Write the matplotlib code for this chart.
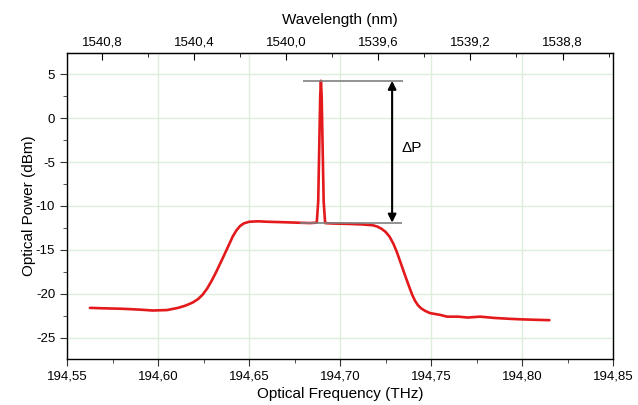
import matplotlib.pyplot as plt
from matplotlib.ticker import MultipleLocator, FixedLocator, FuncFormatter

# spectrum
freq = [194.5626, 194.570, 194.580, 194.590, 194.597, 194.605, 194.611, 194.615,
        194.619, 194.622, 194.6245, 194.627, 194.6295, 194.632, 194.6345, 194.637,
        194.639, 194.641, 194.643, 194.645, 194.647, 194.650, 194.655, 194.660,
        194.6687, 194.676, 194.6835, 194.6872,
        194.6880, 194.6886, 194.6891, 194.6895, 194.6899, 194.6904, 194.6910, 194.6918,
        194.6960, 194.7055, 194.712, 194.718, 194.7205, 194.7228, 194.725, 194.7272,
        194.7293, 194.7313, 194.7335, 194.7357, 194.7378, 194.7396, 194.7412, 194.7428,
        194.7445, 194.7468, 194.7495, 194.755, 194.7588, 194.765, 194.7700, 194.7769,
        194.785, 194.7934, 194.799, 194.806, 194.815]
power = [-21.6, -21.65, -21.7, -21.8, -21.9, -21.85, -21.6, -21.35,
         -21.0, -20.6, -20.1, -19.4, -18.5, -17.5, -16.4, -15.3,
         -14.4, -13.5, -12.8, -12.3, -12.0, -11.8, -11.75, -11.8,
         -11.85, -11.9, -11.95, -11.9,
         -9.5, -3.0, 2.5, 4.24, 2.5, -3.0, -9.5, -11.95,
         -12.0, -12.05, -12.1, -12.2, -12.35, -12.6, -12.95, -13.5,
         -14.3, -15.3, -16.6, -17.9, -19.1, -20.1, -20.8, -21.3,
         -21.65, -21.95, -22.2, -22.4, -22.6, -22.6, -22.7, -22.6,
         -22.75, -22.85, -22.9, -22.95, -23.0]

peak_level = 4.24
floor_level = -11.9
wl_ticks = [1540.8, 1540.4, 1540.0, 1539.6, 1539.2, 1538.8]
wl_minor = [1540.8, 1540.6, 1540.4, 1540.2, 1540.0, 1539.8, 1539.6, 1539.4,
            1539.2, 1539.0, 1538.8, 1538.6]

C = 299792.458  # nm*THz


def f2l(f):
    return C / f


def l2f(l):
    return C / l


plt.rcParams['font.family'] = ['Liberation Sans', 'DejaVu Sans']
fig, ax = plt.subplots(figsize=(6.38, 4.05), dpi=100)
fig.subplots_adjust(left=0.105, right=0.961, bottom=0.114, top=0.869)

ax.grid(True, which='major', color='#dcefdc', linewidth=1.0)
ax.plot(freq, power, color='#e3191c', linewidth=1.9, zorder=3,
        solid_joinstyle='round', solid_capstyle='round')

# delta P annotation
ax.hlines(peak_level, 194.6797, 194.7346, color='#808080', linewidth=1.2, zorder=4)
ax.hlines(floor_level, 194.678, 194.734, color='#808080', linewidth=1.2, zorder=4)
ax.annotate('', xy=(194.7286, peak_level), xytext=(194.7286, floor_level),
            arrowprops=dict(arrowstyle='<|-|>', color='black', lw=1.5,
                            mutation_scale=12, shrinkA=0, shrinkB=0), zorder=5)
ax.text(194.7335, -3.4, '\u0394P', fontsize=11, va='center', ha='left')

ax.set_xlim(194.55, 194.85)
ax.set_ylim(-27.4, 7.4)
ax.xaxis.set_major_locator(MultipleLocator(0.05))
ax.xaxis.set_minor_locator(MultipleLocator(0.025))
ax.yaxis.set_major_locator(MultipleLocator(5))
ax.yaxis.set_minor_locator(MultipleLocator(2.5))
ax.xaxis.set_major_formatter(FuncFormatter(lambda v, p: f'{v:.2f}'.replace('.', ',')))
ax.yaxis.set_major_formatter(FuncFormatter(lambda v, p: f'{v:.0f}'))
ax.tick_params(which='both', direction='out', labelsize=9.5, color='#333333')
ax.tick_params(which='major', length=5)
ax.tick_params(which='minor', length=3)
ax.tick_params(axis='x', top=False)
for s in ax.spines.values():
    s.set_linewidth(1.0)

ax.set_xlabel('Optical Frequency (THz)', fontsize=11, labelpad=3)
ax.set_ylabel('Optical Power (dBm)', fontsize=11, labelpad=0)

sec = ax.secondary_xaxis('top', functions=(f2l, l2f))
sec.xaxis.set_major_locator(FixedLocator(wl_ticks))
sec.xaxis.set_minor_locator(FixedLocator(wl_minor))
sec.xaxis.set_major_formatter(FuncFormatter(lambda v, p: f'{v:.1f}'.replace('.', ',')))
sec.tick_params(which='both', direction='in', labelsize=9.5)
sec.tick_params(which='major', length=5)
sec.tick_params(which='minor', length=3)
sec.set_xlabel('Wavelength (nm)', fontsize=11, labelpad=9)

fig.savefig('out.png', dpi=100)
